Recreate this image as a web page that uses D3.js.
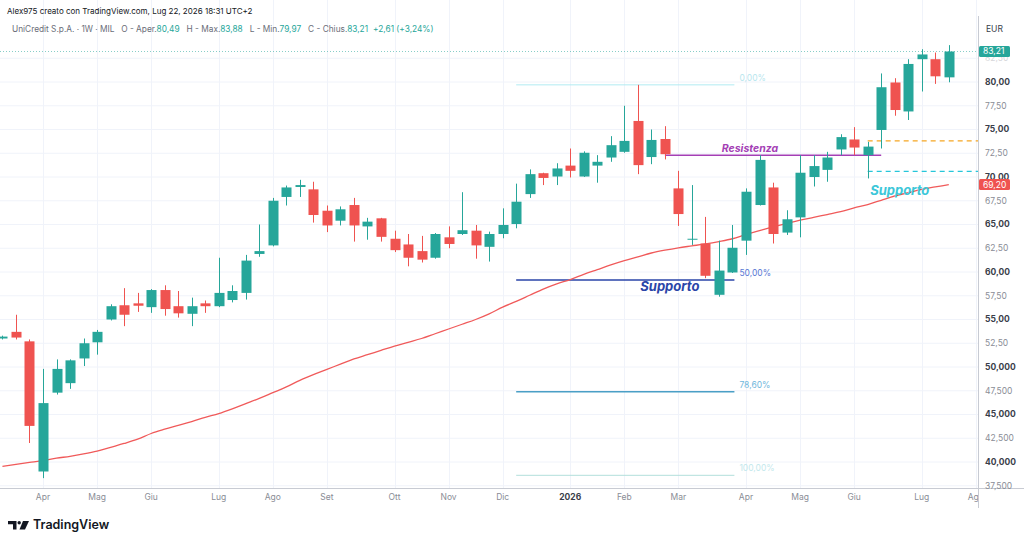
<!DOCTYPE html>
<html><head><meta charset="utf-8">
<script src="https://cdn.jsdelivr.net/npm/d3@7"></script>
<style>
html,body{margin:0;padding:0;background:#fff;}
svg{display:block;font-family:Inter,"Noto Sans",sans-serif;}
</style></head><body>
<svg id="c" width="1024" height="546"></svg>
<script>
// ---------- DATA ----------
const dates = ["2025-03-17","2025-03-24","2025-03-31","2025-04-07","2025-04-14","2025-04-21","2025-04-28","2025-05-05","2025-05-12","2025-05-19","2025-05-26","2025-06-02","2025-06-09","2025-06-16","2025-06-23","2025-06-30","2025-07-07","2025-07-14","2025-07-21","2025-07-28","2025-08-04","2025-08-11","2025-08-18","2025-08-25","2025-09-01","2025-09-08","2025-09-15","2025-09-22","2025-09-29","2025-10-06","2025-10-13","2025-10-20","2025-10-27","2025-11-03","2025-11-10","2025-11-17","2025-11-24","2025-12-01","2025-12-08","2025-12-15","2025-12-22","2025-12-29","2026-01-05","2026-01-12","2026-01-19","2026-01-26","2026-02-02","2026-02-09","2026-02-16","2026-02-23","2026-03-02","2026-03-09","2026-03-16","2026-03-23","2026-03-30","2026-04-06","2026-04-13","2026-04-20","2026-04-27","2026-05-04","2026-05-11","2026-05-18","2026-05-25","2026-06-01","2026-06-08","2026-06-15","2026-06-22","2026-06-29","2026-07-06","2026-07-13","2026-07-20"];
const openP  = [53.0,53.7,52.7,39.0,47.3,48.3,50.9,52.6,55.0,56.5,56.7,56.3,58.1,56.4,55.6,56.7,56.4,57.05,57.8,61.9,62.8,67.9,68.95,68.7,66.45,65.4,67.05,64.8,65.65,63.5,62.9,62.2,61.5,63.65,64.0,64.35,62.65,64.0,65.05,68.2,70.4,70.05,71.2,70.05,71.2,72.05,72.65,75.9,72.1,74.0,68.8,63.4,63.0,57.6,59.95,63.3,67.05,68.9,64.15,65.75,70.0,70.75,72.9,73.95,72.3,74.95,79.95,76.9,82.4,82.4,80.49];
const highP  = [53.3,55.5,52.9,49.8,50.8,50.8,53.0,53.9,56.6,58.3,57.8,58.2,58.6,58.0,57.3,57.0,61.5,58.6,61.8,65.0,67.8,69.1,69.7,69.5,67.0,66.9,67.8,65.7,65.7,64.35,64.0,63.8,64.1,64.8,68.4,64.95,64.25,66.7,69.3,70.8,70.45,71.45,73.0,72.7,72.3,74.3,77.5,79.7,75.0,75.35,70.65,69.15,65.8,63.3,64.95,68.8,72.3,69.4,66.5,72.3,72.3,72.65,74.5,75.25,73.7,80.9,80.4,82.4,83.45,83.1,83.88];
const lowP   = [52.9,52.9,42.0,38.3,47.1,47.7,50.1,51.3,54.9,54.3,55.8,55.7,55.4,55.2,54.3,55.7,56.3,56.8,57.1,61.6,62.7,67.0,67.9,65.2,64.2,64.9,63.2,63.4,63.2,62.1,60.6,61.0,61.4,62.5,63.9,61.4,61.1,63.55,64.6,67.8,69.15,69.15,69.95,70.0,69.4,71.6,72.55,70.3,71.35,71.85,64.85,62.85,59.35,57.4,59.9,61.8,67.0,63.0,63.9,63.65,69.0,69.5,72.3,72.3,69.85,73.0,76.45,76.0,79.0,79.8,79.97];
const closeP = [53.2,53.1,43.8,46.2,49.8,50.7,52.5,53.7,56.4,55.5,56.45,58.1,56.1,55.65,56.4,56.4,57.8,58.0,61.2,62.2,67.5,68.9,69.15,66.0,64.9,66.6,64.9,65.3,63.7,62.3,61.5,61.3,64.0,62.95,64.4,62.8,64.0,64.95,67.4,70.3,69.9,70.9,70.65,72.55,71.6,73.35,73.8,71.25,73.9,72.4,66.1,63.5,59.6,60.15,62.55,68.45,71.8,64.0,65.55,70.45,71.15,72.05,74.2,73.1,73.2,79.45,77.05,81.9,82.9,80.6,83.21];
const maValues = [39.55,39.75,39.95,40.15,40.4,40.6,40.85,41.15,41.55,41.95,42.4,43.0,43.45,43.85,44.25,44.7,45.1,45.6,46.15,46.7,47.3,47.9,48.6,49.2,49.75,50.3,50.85,51.3,51.75,52.2,52.6,53.0,53.5,54.0,54.5,55.0,55.6,56.3,56.9,57.55,58.2,58.75,59.2,59.75,60.25,60.75,61.2,61.6,62.0,62.3,62.55,62.75,62.95,63.2,63.5,63.95,64.35,64.75,65.1,65.45,65.75,66.05,66.35,66.75,67.1,67.55,68.0,68.35,68.7,68.95,69.2];

const yTickValues = [37.5,40,42.5,45,47.5,50,52.5,55,57.5,60,62.5,65,67.5,70,72.5,75,77.5,80,82.5];
const yTickLabels = ["37,500","40,000","42,500","45,000","47,500","50,000","52,50","55,00","57,50","60,00","62,50","65,00","67,50","70,00","72,50","75,00","77,50","80,00","82,50"];
const xTickDates  = ["2025-04-07","2025-05-05","2025-06-02","2025-07-07","2025-08-04","2025-09-01","2025-10-06","2025-11-03","2025-12-01","2026-01-05","2026-02-02","2026-03-02","2026-04-06","2026-05-04","2026-06-01","2026-07-06","2026-08-03"];
const xTickLabels = ["Apr","Mag","Giu","Lug","Ago","Set","Ott","Nov","Dic","2026","Feb","Mar","Apr","Mag","Giu","Lug","Ago"];

const fibHigh = 79.7, fibLow = 38.6;
const fibRatios = [0, 0.5, 0.786, 1];
const fibLabels = ["0,00%","50,00%","78,60%","100,00%"];
const fibStart = "2025-12-08", fibEnd = "2026-03-31";
const resistValue = 72.3, resistStart = "2026-02-23", resistEnd = "2026-06-15";
const dashOrangeValue = 73.8, dashCyanValue = 70.6, dashStart = "2026-06-08";

const headerLine1 = "Alex975 creato con TradingView.com, Lug 22, 2026 18:31 UTC+2";
const symbolText = "UniCredit S.p.A. · 1W · MIL";

// ---------- LAYOUT ----------
const svg = d3.select("#c");
const plotRight = 978, plotBottom = 488;
const parse = d3.utcParse("%Y-%m-%d");
const x = d3.scaleUtc().domain([parse("2025-04-07"), parse("2026-07-20")]).range([43, 948.8]);
const y = d3.scaleLinear().domain([40, 80]).range([462, 82]);
const fmt = v => d3.format(".2f")(v).replace(".", ",");

const green = "#26a69a", red = "#ef5350";
const bars = dates.map((d,i)=>({date:parse(d), o:openP[i], h:highP[i], l:lowP[i], c:closeP[i], ma:maValues[i]}));
const step = x(bars[1].date) - x(bars[0].date);
const bodyW = step * 0.74;

svg.append("defs").append("clipPath").attr("id","pc")
  .append("rect").attr("x",0).attr("y",0).attr("width",plotRight).attr("height",plotBottom);
svg.append("defs").append("clipPath").attr("id","tc")
  .append("rect").attr("x",0).attr("y",plotBottom).attr("width",plotRight).attr("height",30);

const plot = svg.append("g").attr("clip-path","url(#pc)");

// grid
plot.selectAll("line.hg").data(yTickValues).join("line")
  .attr("x1",0).attr("x2",plotRight).attr("y1",d=>y(d)).attr("y2",d=>y(d))
  .attr("stroke","#f0f3fa").attr("stroke-width",1);
plot.selectAll("line.vg").data(xTickDates).join("line")
  .attr("x1",d=>Math.round(x(parse(d)))+0.5).attr("x2",d=>Math.round(x(parse(d)))+0.5)
  .attr("y1",0).attr("y2",plotBottom)
  .attr("stroke","#f0f3fa").attr("stroke-width",1);

// fib lines
const fibColors = ["#b2ebf2","#2a45a8","#4a9fc6","#b2dfdb"];
const fibTextColors = ["#b8e6ee","#5878d4","#6fb7dc","#c4e8ec"];
const fibWidths = [1,1.5,1.5,1];
const fibVals = fibRatios.map(r => fibHigh - r*(fibHigh-fibLow));
plot.selectAll("line.fib").data(fibVals).join("line")
  .attr("x1",x(parse(fibStart))).attr("x2",x(parse(fibEnd)))
  .attr("y1",d=>y(d)).attr("y2",d=>y(d))
  .attr("stroke",(d,i)=>fibColors[i]).attr("stroke-width",(d,i)=>fibWidths[i]);
plot.selectAll("text.fib").data(fibVals).join("text")
  .attr("x",x(parse(fibEnd))+5).attr("y",d=>y(d)-4)
  .attr("font-size",8.5).attr("fill",(d,i)=>fibTextColors[i])
  .text((d,i)=>fibLabels[i]);

// MA line
plot.append("path").datum(bars)
  .attr("d", d3.line().x(d=>x(d.date)).y(d=>y(d.ma)).curve(d3.curveMonotoneX))
  .attr("fill","none").attr("stroke","#f05a5a").attr("stroke-width",1.3);

// last price dotted line
plot.append("line").attr("x1",0).attr("x2",plotRight)
  .attr("y1",y(closeP[closeP.length-1])).attr("y2",y(closeP[closeP.length-1]))
  .attr("stroke",green).attr("stroke-opacity",0.55).attr("stroke-dasharray","1,2");

// resistance
plot.append("line").attr("x1",x(parse(resistStart))).attr("x2",x(parse(resistEnd)))
  .attr("y1",y(resistValue)).attr("y2",y(resistValue))
  .attr("stroke","#a43fb5").attr("stroke-width",1.5);
// dashed lines
plot.append("line").attr("x1",x(parse(dashStart))).attr("x2",plotRight)
  .attr("y1",y(dashOrangeValue)).attr("y2",y(dashOrangeValue))
  .attr("stroke","#f5a623").attr("stroke-width",1.2).attr("stroke-dasharray","5,4");
plot.append("line").attr("x1",x(parse(dashStart))).attr("x2",plotRight)
  .attr("y1",y(dashCyanValue)).attr("y2",y(dashCyanValue))
  .attr("stroke","#26c6da").attr("stroke-width",1.2).attr("stroke-dasharray","5,4");

// candles
const cg = plot.selectAll("g.candle").data(bars).join("g");
cg.append("line")
  .attr("x1",d=>Math.round(x(d.date))+0.5).attr("x2",d=>Math.round(x(d.date))+0.5)
  .attr("y1",d=>y(d.h)).attr("y2",d=>y(d.l))
  .attr("stroke",d=>d.c>=d.o?green:red).attr("stroke-width",1);
cg.append("rect")
  .attr("x",d=>Math.round(x(d.date))+0.5-bodyW/2).attr("width",bodyW)
  .attr("y",d=>y(Math.max(d.o,d.c)))
  .attr("height",d=>Math.max(1,Math.abs(y(d.o)-y(d.c))))
  .attr("fill",d=>d.c>=d.o?green:red);

// annotation texts
plot.append("text").attr("x",x(parse("2026-04-06"))+4).attr("y",y(resistValue)-3)
  .attr("text-anchor","middle").attr("font-size",10.5).attr("font-weight",700)
  .attr("font-style","italic").attr("fill","#a43fb5").text("Resistenza");
plot.append("text").attr("x",x(parse("2026-02-23"))+5).attr("y",y(fibVals[1])+11)
  .attr("text-anchor","middle").attr("font-size",13).attr("font-weight",700)
  .attr("font-style","italic").attr("fill","#2a45a8").text("Supporto");
plot.append("text").attr("x",x(parse("2026-06-22"))+5).attr("y",y(dashCyanValue)+24)
  .attr("text-anchor","middle").attr("font-size",13).attr("font-weight",700)
  .attr("font-style","italic").attr("fill","#3cc7d9").text("Supporto");

// axes lines
svg.append("line").attr("x1",0).attr("x2",1024).attr("y1",plotBottom+0.5).attr("y2",plotBottom+0.5)
  .attr("stroke","#c8cbd3").attr("stroke-width",1);
svg.append("line").attr("x1",plotRight+0.5).attr("x2",plotRight+0.5).attr("y1",16).attr("y2",508)
  .attr("stroke","#c8cbd3").attr("stroke-width",1);

// y axis labels (82,50 sits partly behind the last-price box, as in TradingView)
const boxVals = [closeP[closeP.length-1], maValues[maValues.length-1]];
svg.selectAll("text.yl").data(yTickValues).join("text")
  .attr("x",985).attr("y",d=>y(d)).attr("dy","0.35em")
  .attr("font-size",8.5)
  .attr("font-weight",d=>d%5===0?700:400)
  .attr("fill",d=>d%5===0?"#3a3e4a":"#8a8d96")
  .attr("opacity",d=>boxVals.some(b=>Math.abs(y(b)-y(d))<7)?0.35:1)
  .text((d,i)=>yTickLabels[i]);
svg.append("text").attr("x",986).attr("y",29).attr("dy","0.35em").attr("font-size",8.5)
  .attr("fill","#3a3e4a").text("EUR");

// price boxes
function priceBox(v, color){
  const g = svg.append("g");
  g.append("rect").attr("x",979).attr("y",y(v)-5.5).attr("width",31).attr("height",11)
    .attr("rx",1.5).attr("fill",color);
  g.append("text").attr("x",983).attr("y",y(v)).attr("dy","0.35em").attr("font-size",8.5)
    .attr("fill","#fff").text(fmt(v));
}
priceBox(closeP[closeP.length-1], green);
priceBox(maValues[maValues.length-1], red);

// x axis labels
svg.append("g").attr("clip-path","url(#tc)").selectAll("text").data(xTickDates).join("text")
  .attr("x",d=>x(parse(d))).attr("y",497).attr("dy","0.35em").attr("text-anchor","middle")
  .attr("font-size",8.5)
  .attr("font-weight",(d,i)=>xTickLabels[i]==="2026"?700:400)
  .attr("fill",(d,i)=>xTickLabels[i]==="2026"?"#3a3e4a":"#8a8d96")
  .text((d,i)=>xTickLabels[i]);

// header
svg.append("text").attr("x",7).attr("y",11).attr("dy","0.35em").attr("font-size",8)
  .attr("fill","#131722").text(headerLine1);
const last = bars[bars.length-1], prev = bars[bars.length-2];
const chg = last.c - prev.c, pct = chg/prev.c*100;
const h2 = svg.append("text").attr("x",12).attr("y",29).attr("dy","0.35em").attr("font-size",8.3).attr("fill","#6a6d78");
h2.append("tspan").text(symbolText);
const parts = [["O - Aper.",last.o],["H - Max.",last.h],["L - Min.",last.l],["C - Chius.",last.c]];
parts.forEach(p=>{
  h2.append("tspan").attr("dx",7).text(p[0]);
  h2.append("tspan").attr("fill",green).text(fmt(p[1]));
});
h2.append("tspan").attr("dx",5).attr("fill",green)
  .text((chg>=0?"+":"")+fmt(chg)+" ("+(pct>=0?"+":"")+fmt(pct)+"%)");

// TradingView logo
const lg = svg.append("g").attr("transform","translate(8,521)");
lg.append("path").attr("d","M0 0H8.5V8.5H5V3.2H0Z").attr("fill","#131722");
lg.append("circle").attr("cx",11.2).attr("cy",1.7).attr("r",1.7).attr("fill","#131722");
lg.append("path").attr("d","M15 0H21L17 8.5H11.5Z").attr("fill","#131722");
svg.append("text").attr("x",33).attr("y",525).attr("dy","0.35em").attr("font-size",12.5)
  .attr("font-weight",600).attr("fill","#131722").text("TradingView");
</script>
</body></html>
